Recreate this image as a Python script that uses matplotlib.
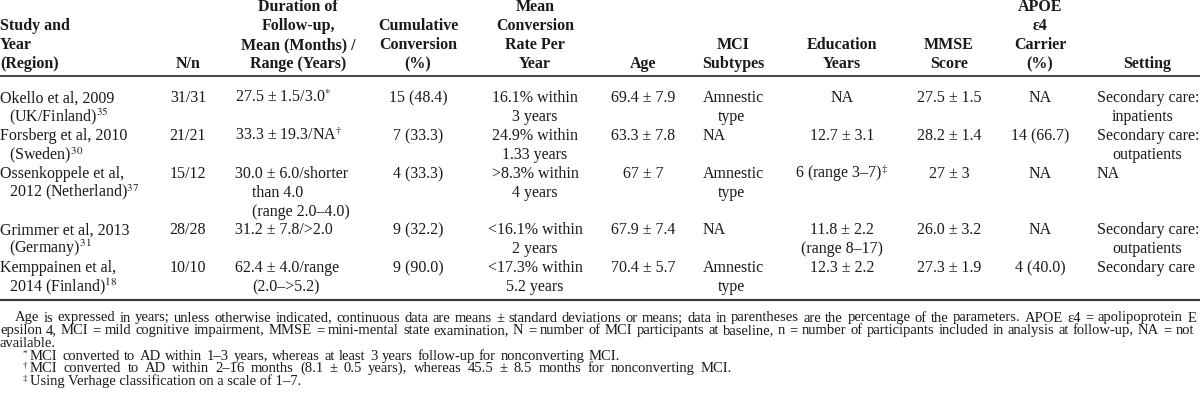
import matplotlib
matplotlib.use('Agg')
import matplotlib.pyplot as plt

plt.rcParams['font.family'] = ['Liberation Serif', 'DejaVu Serif']
plt.rcParams['mathtext.fontset'] = 'stix'

# ---- table content ----
headers = [
    ['Study and', 'Year', '(Region)'],
    ['N/n'],
    ['Duration of', 'Follow-up,', 'Mean (Months) /', 'Range (Years)'],
    ['Cumulative', 'Conversion', '(%)'],
    ['Mean', 'Conversion', 'Rate Per', 'Year'],
    ['Age'],
    ['MCI', 'Subtypes'],
    ['Education', 'Years'],
    ['MMSE', 'Score'],
    ['APOE', 'ε4', 'Carrier', '(%)'],
    ['Setting'],
]

studies = [['Okello et al, 2009', '(UK/Finland)$^{35}$'],
           ['Forsberg et al, 2010', '(Sweden)$^{30}$'],
           ['Ossenkoppele et al,', '2012 (Netherland)$^{37}$'],
           ['Grimmer et al, 2013', '(Germany)$^{31}$'],
           ['Kemppainen et al,', '2014 (Finland)$^{18}$']]
n_counts = [['31/31'], ['21/21'], ['15/12'], ['28/28'], ['10/10']]
durations = [['27.5 ± 1.5/3.0$^{*}$'],
             ['33.3 ± 19.3/NA$^{\\dagger}$'],
             ['30.0 ± 6.0/shorter', 'than 4.0', '(range 2.0–4.0)'],
             ['31.2 ± 7.8/>2.0'],
             ['62.4 ± 4.0/range', '(2.0–>5.2)']]
cumulative = [['15 (48.4)'], ['7 (33.3)'], ['4 (33.3)'], ['9 (32.2)'], ['9 (90.0)']]
rates = [['16.1% within', '3 years'],
         ['24.9% within', '1.33 years'],
         ['>8.3% within', '4 years'],
         ['<16.1% within', '2 years'],
         ['<17.3% within', '5.2 years']]
ages = [['69.4 ± 7.9'], ['63.3 ± 7.8'], ['67 ± 7'], ['67.9 ± 7.4'], ['70.4 ± 5.7']]
subtypes = [['Amnestic', 'type'], ['NA'], ['Amnestic', 'type'], ['NA'], ['Amnestic', 'type']]
education = [['NA'], ['12.7 ± 3.1'], ['6 (range 3–7)$^{\\ddagger}$'],
             ['11.8 ± 2.2', '(range 8–17)'], ['12.3 ± 2.2']]
mmse = [['27.5 ± 1.5'], ['28.2 ± 1.4'], ['27 ± 3'], ['26.0 ± 3.2'], ['27.3 ± 1.9']]
apoe = [['NA'], ['14 (66.7)'], ['NA'], ['NA'], ['4 (40.0)']]
settings = [['Secondary care:', 'inpatients'],
            ['Secondary care:', 'outpatients'],
            ['NA'],
            ['Secondary care:', 'outpatients'],
            ['Secondary care']]

columns = [studies, n_counts, durations, cumulative, rates, ages,
           subtypes, education, mmse, apoe, settings]

note_lines = [
    'Age is expressed in years; unless otherwise indicated, continuous data are means ± standard deviations or means; '
    'data in parentheses are the percentage of the parameters. APOE ε4 = apolipoprotein E',
    'epsilon 4, MCI = mild cognitive impairment, MMSE = mini-mental state examination, N = number of MCI participants '
    'at baseline, n = number of participants included in analysis at follow-up, NA = not',
    'available.',
]
footnotes = [
    ('*', 'MCI converted to AD within 1–3 years, whereas at least 3 years follow-up for nonconverting MCI.'),
    ('†', 'MCI converted to AD within 2–16 months (8.1 ± 0.5 years), whereas 45.5 ± 8.5 months for nonconverting MCI.'),
    ('‡', 'Using Verhage classification on a scale of 1–7.'),
]

# ---- layout (pixel units) ----
# (align, x, indent for continuation lines, header centre)
col_layout = [
    ('left', 0, 9, None),
    ('center', 188, 0, 188),
    ('left', 235, 17, 298),
    ('center', 418, 0, 418),
    ('center', 535, 0, 535),
    ('center', 643, 0, 643),
    ('left', 703, 15, 733),
    ('center', 842, 0, 842),
    ('center', 949, 0, 949),
    ('center', 1040, 0, 1040),
    ('left', 1097, 15, 1147),
]
body_fs = 11.5
ink = '#1a1a1a'

fig = plt.figure(figsize=(12, 4.08), dpi=100)
ax = fig.add_axes([0, 0, 1, 1])
ax.set_xlim(0, 1200)
ax.set_ylim(408, 0)
ax.axis('off')
renderer = fig.canvas.get_renderer()


def text_width(s, size):
    t = ax.text(0, 0, s, fontsize=size)
    w = t.get_window_extent(renderer).width
    t.remove()
    return w


def put_justified(x0, x1, y, s, size):
    words = s.split(' ')
    widths = [text_width(w, size) for w in words]
    gap = (x1 - x0 - sum(widths)) / (len(words) - 1)
    if gap < 0.25 * size:
        ax.text(x0, y, s, ha='left', va='baseline', fontsize=size, color=ink)
        return
    xx = x0
    for w, wd in zip(words, widths):
        ax.text(xx, y, w, ha='left', va='baseline', fontsize=size, color=ink)
        xx += wd + gap


# header, bottom aligned on last line
head_pitch = 19.0
head_last = 63
for (align, x, ind, hx), lines in zip(col_layout, headers):
    n = len(lines)
    for i, s in enumerate(lines):
        y = head_last - (n - 1 - i) * head_pitch + 5
        if hx is None:
            ax.text(x, y, s, ha='left', va='baseline', fontsize=body_fs,
                    fontweight='bold', color=ink)
        else:
            ax.text(hx, y, s, ha='center', va='baseline', fontsize=body_fs,
                    fontweight='bold', color=ink)

ax.hlines(75.5, 0, 1200, color='#4a4a4a', lw=1.5)

# body
line_pitch = 18.85
first_line = 97.5
row_start = 0
for r in range(len(studies)):
    height = max(len(col[r]) for col in columns)
    for (align, x, ind, hx), col in zip(col_layout, columns):
        for i, s in enumerate(col[r]):
            y = first_line + (row_start + i) * line_pitch + 5
            if align == 'left':
                ax.text(x + (ind if i > 0 else 0), y, s, ha='left', va='baseline',
                        fontsize=body_fs, color=ink)
            else:
                ax.text(x, y, s, ha='center', va='baseline',
                        fontsize=body_fs, color=ink)
    row_start += height

ax.hlines(300, 0, 1200, color='#3a3a3a', lw=1.6)

# notes: size so that the first line nearly fills the width
note_fs = 10 * 1165 / text_width(note_lines[0], 10)
note_pitch = 12.7
note_y = 317 + 4.5
put_justified(15, 1196, note_y, note_lines[0], note_fs)
put_justified(0, 1194, note_y + note_pitch, note_lines[1], note_fs)
ax.text(0, note_y + 2 * note_pitch, note_lines[2], ha='left', va='baseline',
        fontsize=note_fs, color=ink)

foot_ends = [620, 732, 286]
for k, (mark, s) in enumerate(footnotes):
    y = note_y + (3 + k) * note_pitch
    ax.text(23, y - 4, mark, ha='left', va='baseline', fontsize=6.5, color=ink)
    put_justified(30, foot_ends[k], y, s, note_fs)

fig.savefig('out.png', dpi=100, facecolor='white')
